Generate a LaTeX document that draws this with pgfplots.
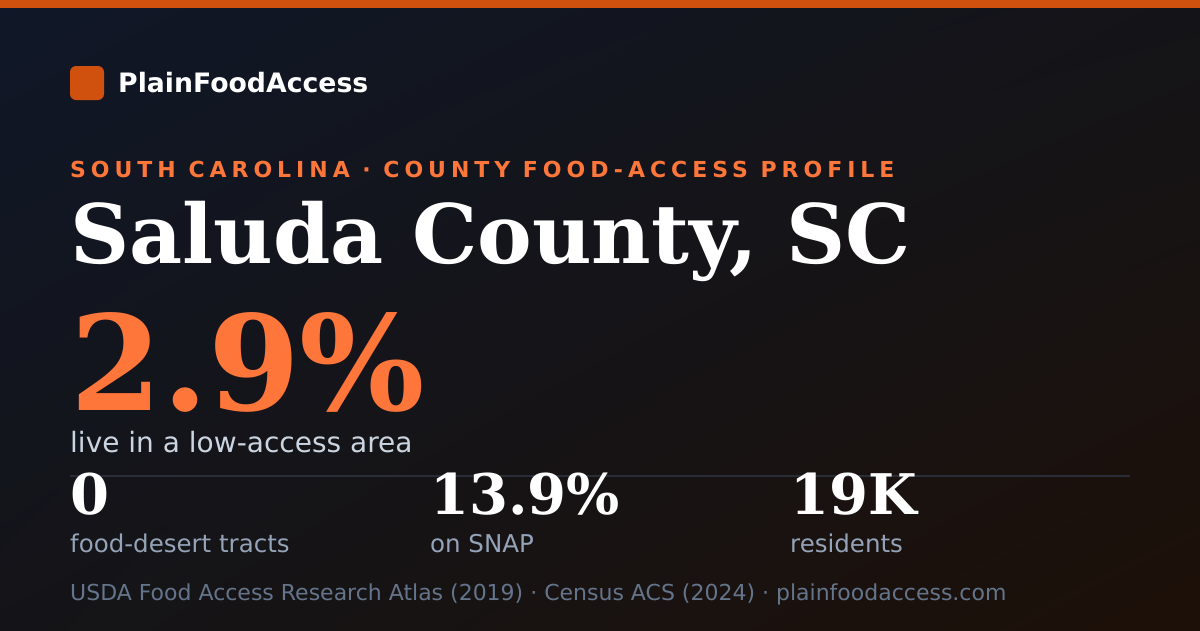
\documentclass[border=0pt]{standalone}
\usepackage{fontspec}
\setmainfont{DejaVu Sans}
\newfontfamily\serifb{DejaVu Serif}
\newfontfamily\headfont{DejaVu Sans}[LetterSpace=22.6]
\usepackage{pgfplots}
\pgfplotsset{compat=1.18}
\usetikzlibrary{shadings}
\definecolor{bgTL}{RGB}{16,23,40}
\definecolor{bgTR}{RGB}{20,20,24}
\definecolor{bgBL}{RGB}{20,20,24}
\definecolor{bgBR}{RGB}{29,16,8}
\definecolor{barc}{RGB}{208,80,14}
\definecolor{orangec}{RGB}{255,118,58}
\definecolor{livec}{RGB}{203,213,225}
\definecolor{labc}{RGB}{148,163,184}
\definecolor{footc}{RGB}{100,116,139}
\definecolor{divc}{RGB}{40,45,56}
\begin{document}
\begin{tikzpicture}
\begin{axis}[
  width=1200pt, height=630pt, scale only axis,
  xmin=0, xmax=1200, ymin=0, ymax=630, y dir=reverse,
  hide axis, clip=false]
\shade[upper left=bgTL, upper right=bgTR, lower left=bgBL, lower right=bgBR]
  (axis cs:0,0) rectangle (axis cs:1200,630);
\fill[barc] (axis cs:0,0) rectangle (axis cs:1200,8);
\fill[barc, rounded corners=6pt] (axis cs:70,66) rectangle (axis cs:104,100);
\addplot[draw=divc, line width=2pt] coordinates {(70,476) (1130,476)};
\node[anchor=base west, inner sep=0pt, text=white] at (axis cs:118,92)
  {\fontsize{26.7}{30}\selectfont\bfseries PlainFoodAccess};
\node[anchor=base west, inner sep=0pt, text=orangec] at (axis cs:70,177)
  {\fontsize{22}{26}\selectfont\headfont\bfseries SOUTH CAROLINA · COUNTY FOOD-ACCESS PROFILE};
\node[anchor=base west, inner sep=0pt, text=white] at (axis cs:70,263)
  {\fontsize{82}{86}\selectfont\serifb\bfseries Saluda County, SC};
\node[anchor=base west, inner sep=0pt, text depth=0pt, text=orangec] at (axis cs:70,410)
  {\fontsize{132}{134}\selectfont\serifb\bfseries 2.9\%};
\node[anchor=base west, inner sep=0pt, text=livec] at (axis cs:70,452)
  {\fontsize{28}{32}\selectfont live in a low-access area};
\node[anchor=base west, inner sep=0pt, text=white] at (axis cs:70,514)
  {\fontsize{56}{58}\selectfont\serifb\bfseries 0};
\node[anchor=base west, inner sep=0pt, text=white] at (axis cs:430,514)
  {\fontsize{56}{58}\selectfont\serifb\bfseries 13.9\%};
\node[anchor=base west, inner sep=0pt, text=white] at (axis cs:790,514)
  {\fontsize{56}{58}\selectfont\serifb\bfseries 19K};
\node[anchor=base west, inner sep=0pt, text=labc] at (axis cs:70,552)
  {\fontsize{24.5}{28}\selectfont food-desert tracts};
\node[anchor=base west, inner sep=0pt, text=labc] at (axis cs:430,552)
  {\fontsize{24.5}{28}\selectfont on SNAP};
\node[anchor=base west, inner sep=0pt, text=labc] at (axis cs:790,552)
  {\fontsize{24.5}{28}\selectfont residents};
\node[anchor=base west, inner sep=0pt, text=footc] at (axis cs:70,600)
  {\fontsize{22}{26}\selectfont USDA Food Access Research Atlas (2019) · Census ACS (2024) · plainfoodaccess.com};
\end{axis}
\end{tikzpicture}
\end{document}
